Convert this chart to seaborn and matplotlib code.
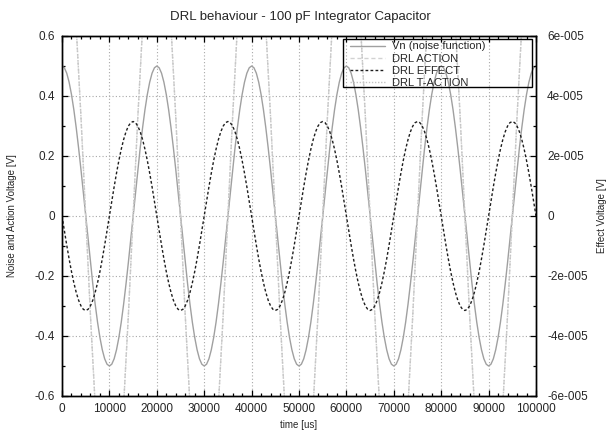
import matplotlib
matplotlib.use("Agg")
import matplotlib.pyplot as plt
from matplotlib.ticker import MultipleLocator, FixedLocator, FixedFormatter
from matplotlib.lines import Line2D
from matplotlib.patches import Rectangle
import seaborn as sns

# ---------------- data ----------------
# fine time grid (500 us) for the noise and effect curves
time_fine_us = list(range(0, 100001, 500))
# coarse time grid (1000 us) for the steep action curves
time_coarse_us = list(range(0, 100001, 1000))

vn = [
    0.5, 0.494, 0.476, 0.446, 0.405, 0.354, 0.294, 0.227, 0.155, 0.078, 0.0, -0.078, -0.155, -0.227, -0.294, -0.354, -0.405, -0.446, -0.476, -0.494,
    -0.5, -0.494, -0.476, -0.446, -0.405, -0.354, -0.294, -0.227, -0.155, -0.078, 0.0, 0.078, 0.155, 0.227, 0.294, 0.354, 0.405, 0.446, 0.476, 0.494,
    0.5, 0.494, 0.476, 0.446, 0.405, 0.354, 0.294, 0.227, 0.155, 0.078, 0.0, -0.078, -0.155, -0.227, -0.294, -0.354, -0.405, -0.446, -0.476, -0.494,
    -0.5, -0.494, -0.476, -0.446, -0.405, -0.354, -0.294, -0.227, -0.155, -0.078, 0.0, 0.078, 0.155, 0.227, 0.294, 0.354, 0.405, 0.446, 0.476, 0.494,
    0.5, 0.494, 0.476, 0.446, 0.405, 0.354, 0.294, 0.227, 0.155, 0.078, 0.0, -0.078, -0.155, -0.227, -0.294, -0.354, -0.405, -0.446, -0.476, -0.494,
    -0.5, -0.494, -0.476, -0.446, -0.405, -0.354, -0.294, -0.227, -0.155, -0.078, 0.0, 0.078, 0.155, 0.227, 0.294, 0.354, 0.405, 0.446, 0.476, 0.494,
    0.5, 0.494, 0.476, 0.446, 0.405, 0.354, 0.294, 0.227, 0.155, 0.078, 0.0, -0.078, -0.155, -0.227, -0.294, -0.354, -0.405, -0.446, -0.476, -0.494,
    -0.5, -0.494, -0.476, -0.446, -0.405, -0.354, -0.294, -0.227, -0.155, -0.078, 0.0, 0.078, 0.155, 0.227, 0.294, 0.354, 0.405, 0.446, 0.476, 0.494,
    0.5, 0.494, 0.476, 0.446, 0.405, 0.354, 0.294, 0.227, 0.155, 0.078, 0.0, -0.078, -0.155, -0.227, -0.294, -0.354, -0.405, -0.446, -0.476, -0.494,
    -0.5, -0.494, -0.476, -0.446, -0.405, -0.354, -0.294, -0.227, -0.155, -0.078, 0.0, 0.078, 0.155, 0.227, 0.294, 0.354, 0.405, 0.446, 0.476, 0.494,
    0.5,
]

drl_effect = [
    0.0, -0.493e-5, -0.973e-5, -1.430e-5, -1.852e-5, -2.227e-5, -2.548e-5, -2.807e-5, -2.996e-5, -3.111e-5, -3.15e-5, -3.111e-5, -2.996e-5, -2.807e-5, -2.548e-5, -2.227e-5, -1.852e-5, -1.430e-5, -0.973e-5, -0.493e-5,
    0.0, 0.493e-5, 0.973e-5, 1.430e-5, 1.852e-5, 2.227e-5, 2.548e-5, 2.807e-5, 2.996e-5, 3.111e-5, 3.15e-5, 3.111e-5, 2.996e-5, 2.807e-5, 2.548e-5, 2.227e-5, 1.852e-5, 1.430e-5, 0.973e-5, 0.493e-5,
    0.0, -0.493e-5, -0.973e-5, -1.430e-5, -1.852e-5, -2.227e-5, -2.548e-5, -2.807e-5, -2.996e-5, -3.111e-5, -3.15e-5, -3.111e-5, -2.996e-5, -2.807e-5, -2.548e-5, -2.227e-5, -1.852e-5, -1.430e-5, -0.973e-5, -0.493e-5,
    0.0, 0.493e-5, 0.973e-5, 1.430e-5, 1.852e-5, 2.227e-5, 2.548e-5, 2.807e-5, 2.996e-5, 3.111e-5, 3.15e-5, 3.111e-5, 2.996e-5, 2.807e-5, 2.548e-5, 2.227e-5, 1.852e-5, 1.430e-5, 0.973e-5, 0.493e-5,
    0.0, -0.493e-5, -0.973e-5, -1.430e-5, -1.852e-5, -2.227e-5, -2.548e-5, -2.807e-5, -2.996e-5, -3.111e-5, -3.15e-5, -3.111e-5, -2.996e-5, -2.807e-5, -2.548e-5, -2.227e-5, -1.852e-5, -1.430e-5, -0.973e-5, -0.493e-5,
    0.0, 0.493e-5, 0.973e-5, 1.430e-5, 1.852e-5, 2.227e-5, 2.548e-5, 2.807e-5, 2.996e-5, 3.111e-5, 3.15e-5, 3.111e-5, 2.996e-5, 2.807e-5, 2.548e-5, 2.227e-5, 1.852e-5, 1.430e-5, 0.973e-5, 0.493e-5,
    0.0, -0.493e-5, -0.973e-5, -1.430e-5, -1.852e-5, -2.227e-5, -2.548e-5, -2.807e-5, -2.996e-5, -3.111e-5, -3.15e-5, -3.111e-5, -2.996e-5, -2.807e-5, -2.548e-5, -2.227e-5, -1.852e-5, -1.430e-5, -0.973e-5, -0.493e-5,
    0.0, 0.493e-5, 0.973e-5, 1.430e-5, 1.852e-5, 2.227e-5, 2.548e-5, 2.807e-5, 2.996e-5, 3.111e-5, 3.15e-5, 3.111e-5, 2.996e-5, 2.807e-5, 2.548e-5, 2.227e-5, 1.852e-5, 1.430e-5, 0.973e-5, 0.493e-5,
    0.0, -0.493e-5, -0.973e-5, -1.430e-5, -1.852e-5, -2.227e-5, -2.548e-5, -2.807e-5, -2.996e-5, -3.111e-5, -3.15e-5, -3.111e-5, -2.996e-5, -2.807e-5, -2.548e-5, -2.227e-5, -1.852e-5, -1.430e-5, -0.973e-5, -0.493e-5,
    0.0, 0.493e-5, 0.973e-5, 1.430e-5, 1.852e-5, 2.227e-5, 2.548e-5, 2.807e-5, 2.996e-5, 3.111e-5, 3.15e-5, 3.111e-5, 2.996e-5, 2.807e-5, 2.548e-5, 2.227e-5, 1.852e-5, 1.430e-5, 0.973e-5, 0.493e-5,
    0.0,
]

drl_action = [
    1.07, 1.018, 0.866, 0.629, 0.331, 0.0, -0.331, -0.629, -0.866, -1.018,
    -1.07, -1.018, -0.866, -0.629, -0.331, 0.0, 0.331, 0.629, 0.866, 1.018,
    1.07, 1.018, 0.866, 0.629, 0.331, 0.0, -0.331, -0.629, -0.866, -1.018,
    -1.07, -1.018, -0.866, -0.629, -0.331, 0.0, 0.331, 0.629, 0.866, 1.018,
    1.07, 1.018, 0.866, 0.629, 0.331, 0.0, -0.331, -0.629, -0.866, -1.018,
    -1.07, -1.018, -0.866, -0.629, -0.331, 0.0, 0.331, 0.629, 0.866, 1.018,
    1.07, 1.018, 0.866, 0.629, 0.331, 0.0, -0.331, -0.629, -0.866, -1.018,
    -1.07, -1.018, -0.866, -0.629, -0.331, 0.0, 0.331, 0.629, 0.866, 1.018,
    1.07, 1.018, 0.866, 0.629, 0.331, 0.0, -0.331, -0.629, -0.866, -1.018,
    -1.07, -1.018, -0.866, -0.629, -0.331, 0.0, 0.331, 0.629, 0.866, 1.018,
    1.07,
]

drl_t_action = [
    1.07, 1.018, 0.866, 0.629, 0.331, 0.0, -0.331, -0.629, -0.866, -1.018,
    -1.07, -1.018, -0.866, -0.629, -0.331, 0.0, 0.331, 0.629, 0.866, 1.018,
    1.07, 1.018, 0.866, 0.629, 0.331, 0.0, -0.331, -0.629, -0.866, -1.018,
    -1.07, -1.018, -0.866, -0.629, -0.331, 0.0, 0.331, 0.629, 0.866, 1.018,
    1.07, 1.018, 0.866, 0.629, 0.331, 0.0, -0.331, -0.629, -0.866, -1.018,
    -1.07, -1.018, -0.866, -0.629, -0.331, 0.0, 0.331, 0.629, 0.866, 1.018,
    1.07, 1.018, 0.866, 0.629, 0.331, 0.0, -0.331, -0.629, -0.866, -1.018,
    -1.07, -1.018, -0.866, -0.629, -0.331, 0.0, 0.331, 0.629, 0.866, 1.018,
    1.07, 1.018, 0.866, 0.629, 0.331, 0.0, -0.331, -0.629, -0.866, -1.018,
    -1.07, -1.018, -0.866, -0.629, -0.331, 0.0, 0.331, 0.629, 0.866, 1.018,
    1.07,
]

x_ticks = [0, 10000, 20000, 30000, 40000, 50000, 60000, 70000, 80000, 90000, 100000]
x_tick_labels = ["0", "10000", "20000", "30000", "40000", "50000",
                 "60000", "70000", "80000", "90000", "100000"]
y_ticks = [-0.6, -0.4, -0.2, 0.0, 0.2, 0.4, 0.6]
y_tick_labels = ["-0.6", "-0.4", "-0.2", "0", "0.2", "0.4", "0.6"]
y2_ticks = [-6e-5, -4e-5, -2e-5, 0.0, 2e-5, 4e-5, 6e-5]
y2_tick_labels = ["-6e-005", "-4e-005", "-2e-005", "0", "2e-005", "4e-005", "6e-005"]

title = "DRL behaviour - 100 pF Integrator Capacitor"
series_labels = ["Vn (noise function)", "DRL ACTION", "DRL EFFECT", "DRL T-ACTION"]

# ---------------- style ----------------
sns.set_style("white")
plt.rcParams["font.family"] = ["Liberation Sans", "DejaVu Sans"]

W, H = 611, 432
fig = plt.figure(figsize=(W / 100, H / 100), dpi=100)
L, R, T, B = 62, 536, 36, 396
ax = fig.add_axes([L / W, 1 - B / H, (R - L) / W, (B - T) / H])
ax2 = ax.twinx()

c_vn = "#a0a0a0"
c_act = "#d2d2d2"
c_tact = "#c4c4c4"
c_eff = "#1e1e1e"
ls_act = (0, (3, 2))
ls_tact = (0, (1, 1.2))
ls_eff = (0, (2, 1.6))

sns.lineplot(x=time_fine_us, y=vn, ax=ax, color=c_vn, lw=1.0)
sns.lineplot(x=time_coarse_us, y=drl_action, ax=ax, color=c_act, lw=1.0).lines[-1].set_linestyle(ls_act)
sns.lineplot(x=time_coarse_us, y=drl_t_action, ax=ax, color=c_tact, lw=1.0).lines[-1].set_linestyle(ls_tact)
sns.lineplot(x=time_fine_us, y=drl_effect, ax=ax2, color=c_eff, lw=1.0).lines[-1].set_linestyle(ls_eff)

for a in (ax, ax2):
    if a.get_legend() is not None:
        a.get_legend().remove()

ax.set_xlim(0, 100000)
ax.set_ylim(-0.6, 0.6)
ax2.set_ylim(-6e-5, 6e-5)

ax.xaxis.set_major_locator(FixedLocator(x_ticks))
ax.xaxis.set_major_formatter(FixedFormatter(x_tick_labels))
ax.xaxis.set_minor_locator(MultipleLocator(2000))
ax.yaxis.set_major_locator(FixedLocator(y_ticks))
ax.yaxis.set_major_formatter(FixedFormatter(y_tick_labels))
ax.yaxis.set_minor_locator(MultipleLocator(0.1))
ax2.yaxis.set_major_locator(FixedLocator(y2_ticks))
ax2.yaxis.set_major_formatter(FixedFormatter(y2_tick_labels))
ax2.yaxis.set_minor_locator(MultipleLocator(1e-5))

tick_fs = 8.5
ax.tick_params(axis="x", which="both", direction="in", top=True, bottom=True,
               labelsize=tick_fs, pad=5, color="black")
ax.tick_params(axis="y", which="both", direction="in", left=True, right=False,
               labelsize=tick_fs, pad=5, color="black")
ax2.tick_params(axis="y", which="both", direction="in", right=True, left=False,
                labelsize=tick_fs, pad=8, color="black")
for a in (ax, ax2):
    a.tick_params(which="major", length=4, width=0.9)
    a.tick_params(which="minor", length=2.2, width=0.9)
    for sp in a.spines.values():
        sp.set_visible(True)
        sp.set_color("black")
        sp.set_linewidth(1.0)

ax.grid(True, which="major", color="#a8a8a8", linestyle=(0, (1, 2)), linewidth=0.8)
ax2.grid(False)
ax.set_axisbelow(True)

ax.set_ylabel("Noise and Action Voltage [V]", fontsize=7)
ax.yaxis.set_label_coords((12 - L) / (R - L), 0.5)
ax.yaxis.label.set_va("center")
ax2.set_ylabel("Effect Voltage [V]", fontsize=7)
ax2.yaxis.set_label_coords((602 - L) / (R - L), 0.5)
ax2.yaxis.label.set_va("center")
ax.set_xlabel("time [us]", fontsize=7)
ax.xaxis.set_label_coords(0.5, -(425 - B) / (B - T))
ax.xaxis.label.set_va("center")

fig.text(300 / W, 1 - 17 / H, title, ha="center", va="center", fontsize=9.5)

# legend (gnuplot-like: wide box, entries left-aligned)
handles = [
    Line2D([], [], color=c_vn, lw=1.0),
    Line2D([], [], color=c_act, lw=1.0, linestyle=ls_act),
    Line2D([], [], color=c_eff, lw=1.0, linestyle=ls_eff),
    Line2D([], [], color=c_tact, lw=1.0, linestyle=ls_tact),
]
ax_w, ax_h = (R - L), (B - T)
leg = ax2.legend(handles, series_labels, loc="upper left",
                 bbox_to_anchor=((350 - L) / ax_w, (B - 41.5) / ax_h),
                 fontsize=8, frameon=False, handlelength=3.15, handletextpad=0.65,
                 labelspacing=0.2, borderpad=0.0, borderaxespad=0)
box_l, box_r, box_t, box_b = 343, 532, 39, 87
ax2.add_patch(Rectangle(((box_l - L) / ax_w, (B - box_b) / ax_h),
                        (box_r - box_l) / ax_w, (box_b - box_t) / ax_h,
                        transform=ax2.transAxes, fill=False, edgecolor="black",
                        linewidth=1.0, zorder=5))

fig.savefig("out.png", dpi=100)
